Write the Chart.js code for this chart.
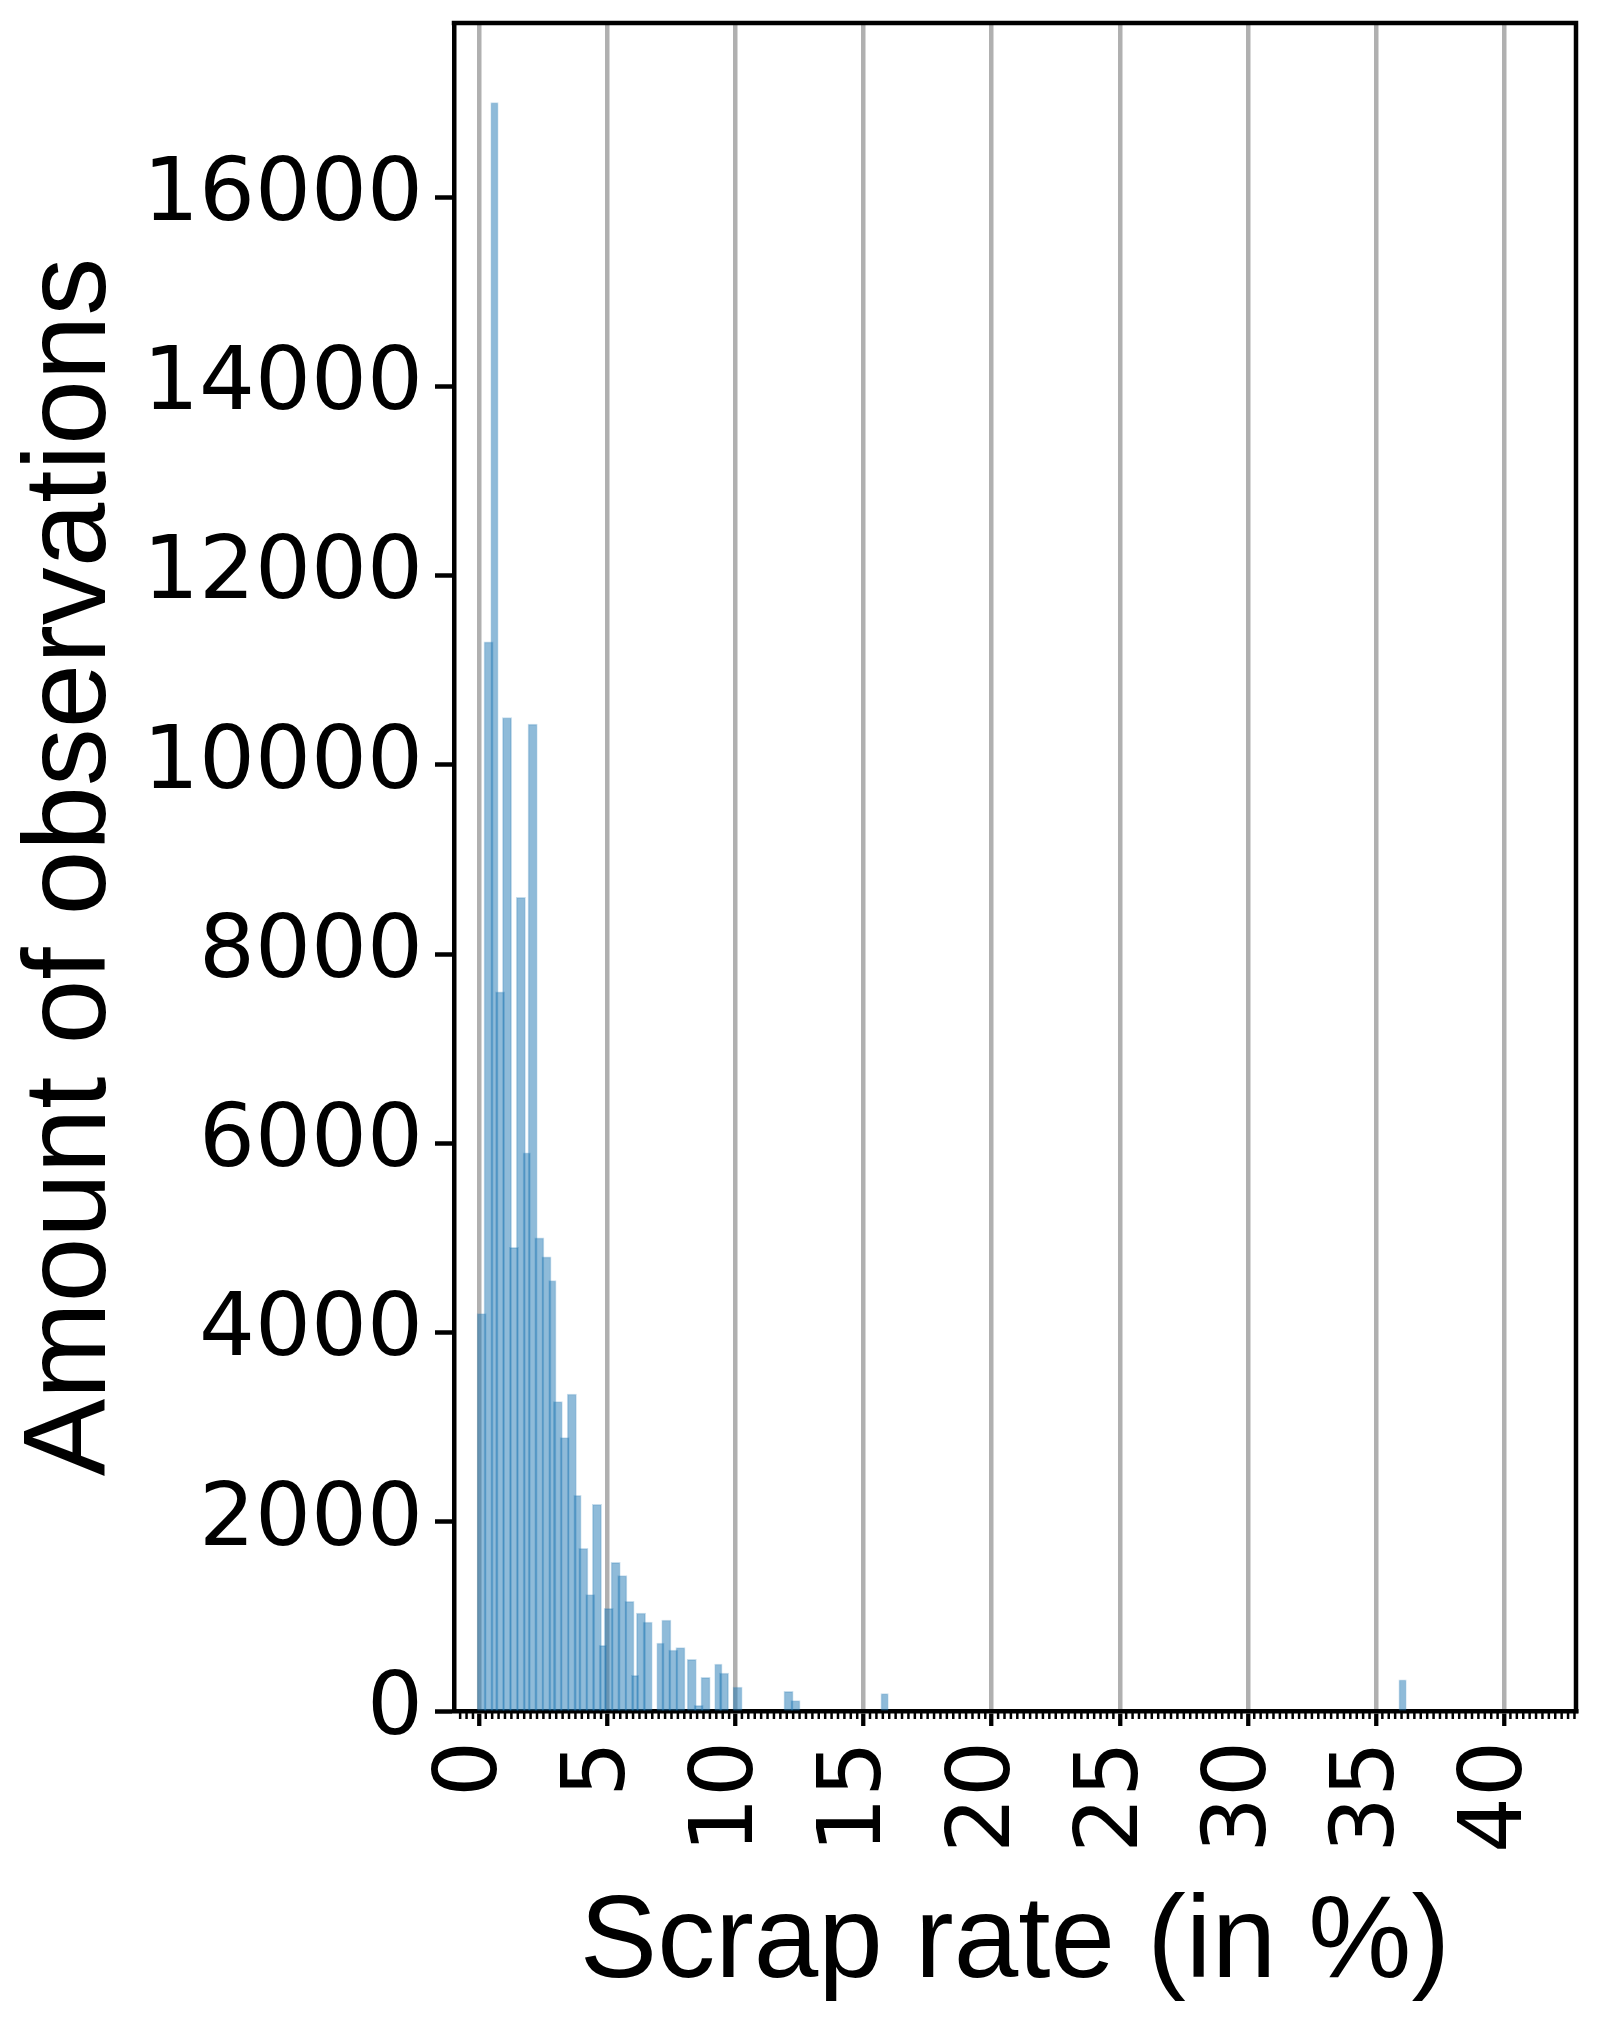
<!DOCTYPE html>
<html>
<head>
<meta charset="utf-8">
<script src="https://cdn.jsdelivr.net/npm/chart.js@4.4.1/dist/chart.umd.min.js"></script>
<style>
html,body{margin:0;padding:0;background:#fff;}
#wrap{width:1597px;height:2036px;}
canvas{display:block;}
</style>
</head>
<body>
<div id="wrap"><canvas id="c" width="1597" height="2036"></canvas></div>
<script>
// ---- data ----
const scrapRateWide = [0.09,0.36,0.81,1.08,1.35,1.62,2.08,2.34,2.62,3.06,3.33,3.61,4.06,4.33,4.59,5.05,5.32,5.58,5.86,6.31,6.57,7.30,7.57,7.85,8.29,8.56,8.83,9.55,10.08,12.07,12.34];
const countsWide    = [4200,11300,7600,10500,4900,8600,10430,5000,4800,3270,2890,3350,1720,1230,2185,1085,1570,1430,1160,1036,941,962,645,669,546,60,356,402,254,208,109];
const scrapRateNarrow = [0.59,1.85,2.85,3.83,4.82,6.08,7.07,9.33,15.82,36.04];
const countsNarrow    = [17000,5900,4550,2280,694,377,719,497,183,330];
const xTickValues = [0,5,10,15,20,25,30,35,40];
const yTickValues = [0,2000,4000,6000,8000,10000,12000,14000,16000];
const xMinorStep = 0.25;
const xTitle = 'Scrap rate (in %)';
const yTitle = 'Amount of observations';

const toPoints = (xs, ys) => xs.map((x, i) => ({x: x, y: ys[i]}));

const minorTicks = {
  id: 'minorTicks',
  afterDraw(chart) {
    const sx = chart.scales.x, ctx = chart.ctx, b = chart.chartArea.bottom;
    ctx.save();
    ctx.strokeStyle = '#000';
    ctx.lineWidth = 2.5;
    const start = Math.ceil(sx.min / xMinorStep);
    const end = Math.floor(sx.max / xMinorStep);
    for (let k = start; k <= end; k++) {
      const v = k * xMinorStep;
      if (xTickValues.includes(v)) continue;
      const px = sx.getPixelForValue(v);
      ctx.beginPath();
      ctx.moveTo(px, b);
      ctx.lineTo(px, b + 8);
      ctx.stroke();
    }
    ctx.restore();
  }
};

const frame = {
  id: 'frame',
  afterDraw(chart) {
    const a = chart.chartArea, ctx = chart.ctx;
    ctx.save();
    ctx.strokeStyle = '#000';
    ctx.lineWidth = 4.5;
    ctx.lineJoin = 'miter';
    ctx.beginPath();
    ctx.moveTo(a.left - 2.25, a.top);
    ctx.lineTo(a.right, a.top);
    ctx.lineTo(a.right, a.bottom + 2.25);
    ctx.stroke();
    ctx.restore();
  }
};

const barFill = 'rgba(31,119,180,0.5)';
const barEdge = 'rgba(31,119,180,0.25)';

new Chart(document.getElementById('c'), {
  type: 'bar',
  data: {
    datasets: [
      {data: toPoints(scrapRateWide, countsWide), backgroundColor: barFill, borderColor: barEdge,
       borderWidth: 1, borderSkipped: 'start', barThickness: 9.3, grouped: false},
      {data: toPoints(scrapRateNarrow, countsNarrow), backgroundColor: barFill, borderColor: barEdge,
       borderWidth: 1, borderSkipped: 'start', barThickness: 7.5, grouped: false}
    ]
  },
  options: {
    responsive: false,
    devicePixelRatio: 1,
    animation: false,
    layout: {padding: {left: 0, top: 23, right: 21, bottom: 0}},
    plugins: {legend: {display: false}, tooltip: {enabled: false}},
    scales: {
      x: {
        type: 'linear',
        offset: false,
        z: 1,
        min: -0.99,
        max: 42.81,
        afterBuildTicks: s => { s.ticks = xTickValues.map(v => ({value: v})); },
        afterFit: s => { s.height = 325; s.paddingLeft = 0; s.paddingRight = 0; },
        grid: {offset: false, display: true, drawOnChartArea: true, color: '#b0b0b0', lineWidth: 4.5,
               drawTicks: true, tickLength: 15, tickColor: '#000', tickWidth: 4.3},
        border: {display: true, color: '#000', width: 4.5},
        ticks: {
          autoSkip: false, includeBounds: false, minRotation: 90, maxRotation: 90,
          padding: 15, labelOffset: -6,
          color: '#000',
          font: {family: 'DejaVu Sans', size: 88},
          callback: v => String(v)
        },
        title: {display: true, text: xTitle, color: '#000',
                font: {family: 'Liberation Sans', size: 116, lineHeight: 1.2},
                padding: {top: 0, bottom: 21}}
      },
      y: {
        type: 'linear',
        min: 0,
        max: 17840,
        afterBuildTicks: s => { s.ticks = yTickValues.map(v => ({value: v})); },
        afterFit: s => { s.width = 454; s.paddingTop = 0; s.paddingBottom = 0; },
        grid: {display: true, drawOnChartArea: false, drawTicks: true, tickLength: 19,
               tickColor: '#000', tickWidth: 4.5},
        border: {display: true, color: '#000', width: 4.5},
        ticks: {
          includeBounds: false, padding: 12, color: '#000',
          font: {family: 'DejaVu Sans', size: 88},
          callback: v => String(v)
        },
        title: {display: true, text: yTitle, color: '#000',
                font: {family: 'Liberation Sans', size: 116, lineHeight: 1.2},
                padding: {top: 3, bottom: 0}}
      }
    }
  },
  plugins: [minorTicks, frame]
});
</script>
</body>
</html>
